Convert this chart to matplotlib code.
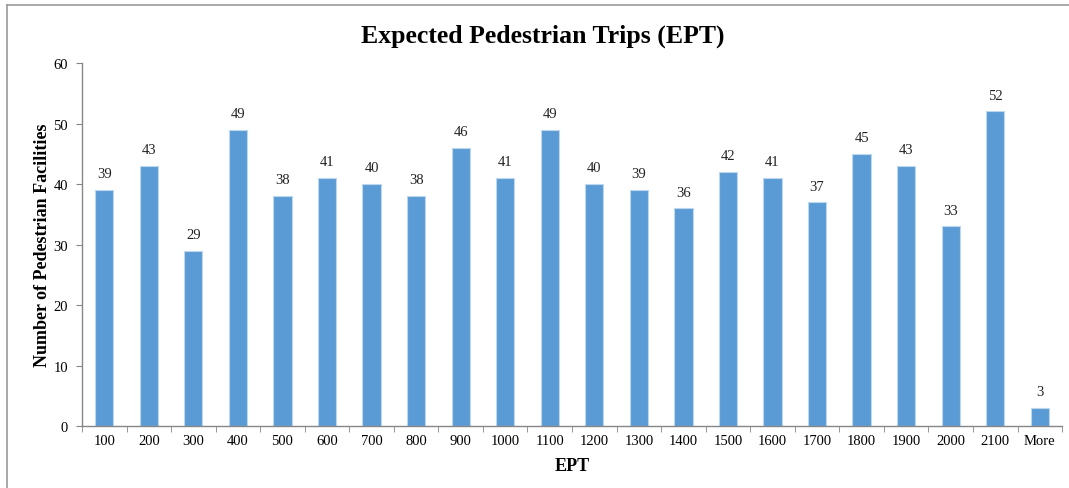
import matplotlib
matplotlib.use("Agg")
import matplotlib.pyplot as plt
from matplotlib.lines import Line2D
import numpy as np

categories = ["100", "200", "300", "400", "500", "600", "700", "800", "900", "1000",
              "1100", "1200", "1300", "1400", "1500", "1600", "1700", "1800", "1900",
              "2000", "2100", "More"]
counts = [39, 43, 29, 49, 38, 41, 40, 38, 46, 41, 49, 40, 39, 36, 42, 41, 37, 45, 43,
          33, 52, 3]
y_ticks = [0, 10, 20, 30, 40, 50, 60]

plt.rcParams["font.family"] = ["Liberation Serif", "DejaVu Serif"]

fig = plt.figure(figsize=(10.69, 4.89), dpi=100)
ax = fig.add_axes([0.0767, 0.1268, 0.9168, 0.7422])

x = np.arange(len(categories))
bars = ax.bar(x, counts, width=0.41, color="#5B9BD5", edgecolor="#BDD7EE", linewidth=0.8)

for xi, v in zip(x, counts):
    ax.text(xi, v + 1.6, str(v), ha="center", va="bottom", fontsize=10.5, color="#222222")

ax.set_xlim(-0.5, len(categories) - 0.5)
ax.set_ylim(0, 60)
ax.set_yticks(y_ticks)
ax.set_xticks(x)
ax.set_xticklabels(categories, fontsize=10.5)
ax.set_xticks(np.arange(-0.5, len(categories), 1.0), minor=True)
ax.tick_params(axis="x", which="major", length=0, pad=6)
ax.tick_params(axis="x", which="minor", length=4, color="#868686", direction="out")
ax.tick_params(axis="y", length=4, color="#868686", direction="out", labelsize=10.5, pad=6)

for side in ["top", "right"]:
    ax.spines[side].set_visible(False)
for side in ["left", "bottom"]:
    ax.spines[side].set_color("#868686")
    ax.spines[side].set_linewidth(1.0)

ax.set_xlabel("EPT", fontsize=13, fontweight="bold", labelpad=7)
ax.set_ylabel("Number of Pedestrian Facilities", fontsize=13, fontweight="bold", labelpad=2)
fig.text(0.508, 0.926, "Expected Pedestrian Trips (EPT)", ha="center", va="center",
         fontsize=18.5, fontweight="bold")

# Outer frame (left and top edges)
fig.add_artist(Line2D([7 / 1069, 7 / 1069], [0, 1 - 6 / 489], transform=fig.transFigure,
                      color="#9a9a9a", linewidth=1.2))
fig.add_artist(Line2D([7 / 1069, 1], [1 - 6 / 489, 1 - 6 / 489], transform=fig.transFigure,
                      color="#9a9a9a", linewidth=1.2))

fig.savefig("out.png", dpi=100)
